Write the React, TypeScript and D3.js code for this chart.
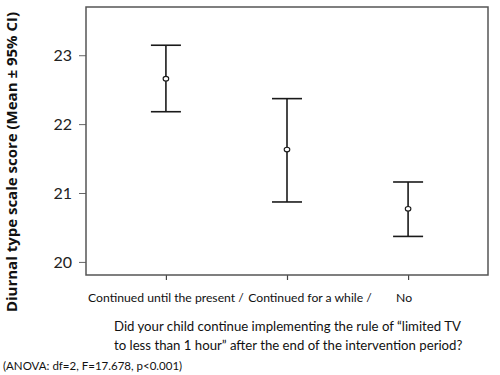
import React, {Component} from 'react';
import * as d3 from "d3"

// groups on the x axis
const categories = ["Continued until the present /", "Continued for a while /", "No"]
// mean and 95% CI per group
const means = [22.66, 21.63, 20.77]
const lowerCI = [22.18, 20.87, 20.37]
const upperCI = [23.145, 22.37, 21.16]
const yTicks = [20, 21, 22, 23]
const questionLines = [
  "Did your child continue implementing the rule of \u201climited TV",
  "to less than 1 hour\u201d after the end of the intervention period?",
]
const yTitle = "Diurnal type scale score (Mean \u00b1 95% CI)"
const note = "(ANOVA: df=2, F=17.678, p<0.001)"

interface AppState {
  padding: {
    width: number,
    height: number,
    top: number,
    left: number,
    right: number,
    bottom: number,
  }
}

class App extends Component<{}, AppState> {
  svgRef = React.createRef<SVGSVGElement>()

  public constructor(props: {}) {
    super(props)
    this.state = {
      padding: {
        width: 500,
        height: 375,
        top: 7,
        left: 86,
        right: 488,
        bottom: 275,
      }
    }
  }

  renderChart() {
    const {padding} = this.state
    const font = "Lato, 'Open Sans', sans-serif"
    const svg = d3.select(this.svgRef.current)
    svg.selectAll("*").remove()

    const xScale = d3.scalePoint<string>()
      .domain(categories)
      .range([padding.left, padding.right])
      .padding(0.66)
    const yScale = d3.scaleLinear()
      .domain([19.81, 23.7])
      .range([padding.bottom, padding.top])

    const data = categories.map((c, i) => ({
      category: c,
      mean: means[i],
      lo: lowerCI[i],
      hi: upperCI[i],
    }))

    // y axis
    const yAxis = svg.append("g")
      .attr("transform", `translate(${padding.left},0)`)
      .call(d3.axisLeft(yScale).tickValues(yTicks).tickSize(7).tickPadding(7).tickFormat(d3.format("d")))
    yAxis.select(".domain").remove()
    yAxis.selectAll("line").attr("stroke", "#666").attr("stroke-width", 1)
    yAxis.selectAll("text")
      .attr("font-size", "16px")
      .attr("font-family", font)
      .attr("fill", "#222")

    // x axis ticks only
    const xAxis = svg.append("g")
      .attr("transform", `translate(0,${padding.bottom})`)
      .call(d3.axisBottom(xScale).tickSize(5).tickFormat(() => ""))
    xAxis.select(".domain").remove()
    xAxis.selectAll("line").attr("stroke", "#444").attr("stroke-width", 1.2)

    // frame
    svg.append("rect")
      .attr("x", padding.left)
      .attr("y", padding.top)
      .attr("width", padding.right - padding.left)
      .attr("height", padding.bottom - padding.top)
      .attr("fill", "none")
      .attr("stroke", "#555")
      .attr("stroke-width", 1.5)

    // error bars
    const capHalf = 15
    const bars = svg.append("g").selectAll(".bar")
      .data(data)
      .join("g")
      .attr("class", "bar")
      .attr("stroke", "#1a1a1a")
      .attr("stroke-width", 1.6)
    bars.append("line")
      .attr("x1", d => xScale(d.category) as number)
      .attr("x2", d => xScale(d.category) as number)
      .attr("y1", d => yScale(d.lo))
      .attr("y2", d => yScale(d.hi))
    bars.append("line")
      .attr("x1", d => (xScale(d.category) as number) - capHalf)
      .attr("x2", d => (xScale(d.category) as number) + capHalf)
      .attr("y1", d => yScale(d.hi))
      .attr("y2", d => yScale(d.hi))
    bars.append("line")
      .attr("x1", d => (xScale(d.category) as number) - capHalf)
      .attr("x2", d => (xScale(d.category) as number) + capHalf)
      .attr("y1", d => yScale(d.lo))
      .attr("y2", d => yScale(d.lo))
    bars.append("ellipse")
      .attr("cx", d => xScale(d.category) as number)
      .attr("cy", d => yScale(d.mean))
      .attr("rx", 2.8)
      .attr("ry", 2.3)
      .attr("fill", "white")
      .attr("stroke-width", 1.1)

    // category labels (shifted a little like the original)
    const labelShift = [0, 23, -4]
    svg.append("g").selectAll("text")
      .data(categories)
      .join("text")
      .attr("x", (d, i) => (xScale(d) as number) + labelShift[i])
      .attr("y", 302)
      .attr("text-anchor", "middle")
      .attr("font-size", "12.2px")
      .attr("font-family", font)
      .attr("fill", "#111")
      .text(d => d)

    // question
    svg.append("g").selectAll("text")
      .data(questionLines)
      .join("text")
      .attr("x", 114)
      .attr("y", (d, i) => 331 + i * 19)
      .attr("font-size", "13.2px")
      .attr("font-family", font)
      .attr("fill", "#111")
      .text(d => d)

    svg.append("text")
      .attr("x", 3)
      .attr("y", 370)
      .attr("font-size", "11.5px")
      .attr("font-family", font)
      .attr("fill", "#111")
      .text(note)

    // y title
    svg.append("text")
      .attr("transform", "translate(17,162) rotate(-90)")
      .attr("text-anchor", "middle")
      .attr("font-size", "15px")
      .attr("font-weight", "bold")
      .attr("font-family", "'Open Sans', sans-serif")
      .attr("fill", "#111")
      .text(yTitle)
  }

  componentDidMount() {
    this.renderChart()
  }

  public render(): JSX.Element {
    const {padding} = this.state
    return (
      <svg
        ref={this.svgRef}
        width={padding.width}
        height={padding.height}
        style={{position: "absolute", left: 0, top: 0, background: "white"}}
      />
    )
  }
}
export default App;
